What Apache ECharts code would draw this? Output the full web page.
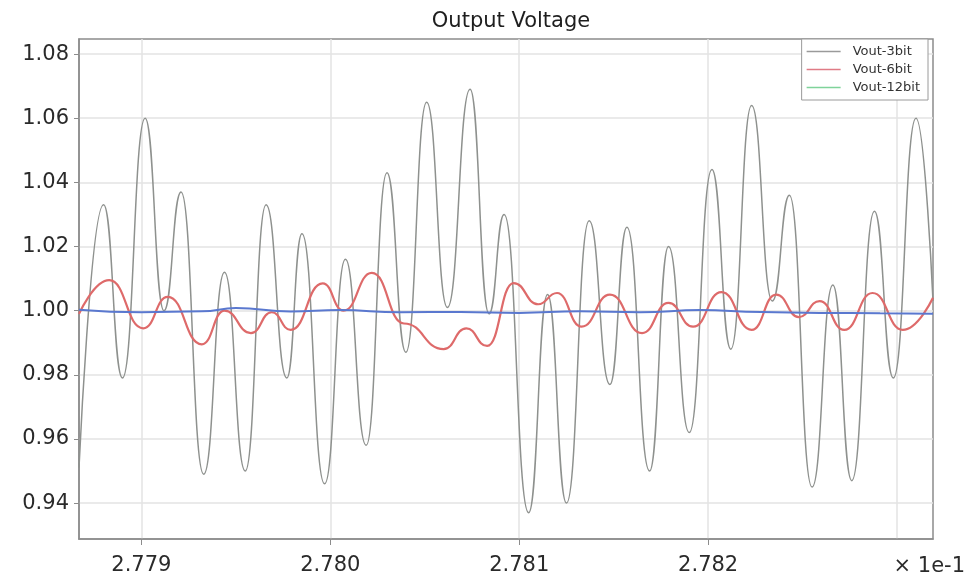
<!DOCTYPE html>
<html>
<head>
<meta charset="utf-8">
<title>Output Voltage</title>
<script src="https://cdn.jsdelivr.net/npm/echarts@6/dist/echarts.min.js"></script>
<style>
  html, body { margin: 0; padding: 0; background: #ffffff; }
  #chart { width: 969px; height: 582px; }
</style>
</head>
<body>
<div id="chart"></div>
<script>
// Time axis values are shown in units of 1e-1 s (scale note drawn at the right end).
const xTicks = [2.779, 2.780, 2.781, 2.782];
const xGridLines = [2.779, 2.780, 2.781, 2.782, 2.783];
const yTicks = [0.94, 0.96, 0.98, 1.00, 1.02, 1.04, 1.06, 1.08];
const seriesNames = ['Vout-3bit', 'Vout-6bit', 'Vout-12bit'];

// Vout-3bit: large ripple
const time3 = [
  2.77867, 2.77880, 2.77890, 2.77902, 2.77912, 2.77921, 2.77933, 2.77944, 2.77955, 2.77966,
  2.77977, 2.77985, 2.77997, 2.78008, 2.78019, 2.78030, 2.78040, 2.78051, 2.78062, 2.78074,
  2.78084, 2.78092, 2.78105, 2.78115, 2.78125, 2.78137, 2.78148, 2.78157, 2.78169, 2.78179,
  2.78190, 2.78202, 2.78212, 2.78223, 2.78234, 2.78243, 2.78255, 2.78266, 2.78276, 2.78288,
  2.78298, 2.78310, 2.78319
];
const vout3 = [
  0.951, 1.033, 0.979, 1.060, 1.000, 1.037, 0.949, 1.012, 0.950, 1.033,
  0.979, 1.024, 0.946, 1.016, 0.958, 1.043, 0.987, 1.065, 1.001, 1.069,
  0.999, 1.030, 0.937, 1.005, 0.940, 1.028, 0.977, 1.026, 0.950, 1.020,
  0.962, 1.044, 0.988, 1.064, 1.003, 1.036, 0.945, 1.008, 0.947, 1.031,
  0.979, 1.060, 1.003
];

// Vout-6bit: medium ripple
const time6 = [
  2.77867, 2.77883, 2.77901, 2.77914, 2.77932, 2.77944, 2.77958, 2.77969, 2.77979, 2.77996,
  2.78007, 2.78022, 2.78039, 2.78060, 2.78072, 2.78083, 2.78097, 2.78110, 2.78120, 2.78133,
  2.78148, 2.78165, 2.78179, 2.78192, 2.78207, 2.78223, 2.78236, 2.78248, 2.78259, 2.78272,
  2.78287, 2.78303, 2.78319
];
const vout6 = [
  0.999, 1.0095, 0.9945, 1.0043, 0.9895, 1.000, 0.993, 0.9995, 0.994, 1.0085,
  1.000, 1.0118, 0.996, 0.988, 0.9945, 0.989, 1.0086, 1.002, 1.0055, 0.995,
  1.005, 0.993, 1.0024, 0.995, 1.0058, 0.994, 1.005, 0.998, 1.003, 0.994,
  1.0055, 0.994, 1.004
];

// Vout-12bit: almost flat
const time12 = [
  2.77867, 2.77900, 2.77932, 2.77950, 2.77979, 2.78005, 2.78037, 2.78069, 2.78100, 2.78132,
  2.78164, 2.78196, 2.78228, 2.78259, 2.78291, 2.78319
];
const vout12 = [
  1.0003, 0.9995, 0.9998, 1.0008, 0.9997, 1.0002, 0.9995, 0.9996, 0.9993, 0.9998,
  0.9995, 1.0002, 0.9996, 0.9993, 0.9992, 0.9990
];

const lineColors = ['#8e918e', '#de6a6a', '#5a78cf'];
const legendColors = ['#9a9a9a', '#e07b86', '#7fd39a'];
const gridColor = '#e3e3e3';
const frameColor = '#8c8c8c';

function pairs(xs, ys) {
  return xs.map((x, i) => [x, ys[i]]);
}

const fontFamily = "'DejaVu Sans', 'Liberation Sans', sans-serif";
const xMin = 2.77867, xMax = 2.78319;
const chart = echarts.init(document.getElementById('chart'), null, { renderer: 'canvas' });

chart.setOption({
  animation: false,
  backgroundColor: '#ffffff',
  title: {
    text: 'Output Voltage',
    left: 506,
    textAlign: 'center',
    top: 6,
    textStyle: { fontFamily, fontSize: 21, fontWeight: 'normal', color: '#1e1e1e' }
  },
  grid: {
    left: 79, right: 36, top: 39, bottom: 43,
    show: true, borderColor: frameColor, borderWidth: 1.5, backgroundColor: 'transparent'
  },
  legend: {
    orient: 'vertical',
    right: 41,
    top: 39,
    padding: [6, 8, 6, 5],
    itemGap: 5,
    itemWidth: 34,
    itemHeight: 14,
    backgroundColor: '#ffffff',
    borderColor: '#9a9a9a',
    borderWidth: 1,
    textStyle: { fontFamily, fontSize: 13, color: '#333333', padding: [0, 0, 0, 7] },
    data: seriesNames.map((n, i) => ({
      name: n,
      icon: 'path://M0,0 L40,0 L40,1.5 L0,1.5 Z',
      itemStyle: { color: legendColors[i] }
    }))
  },
  xAxis: [
    {
      // labelled time axis
      type: 'value',
      min: xMin,
      max: xMax,
      z: 3,
      axisLine: { show: true, onZero: false, lineStyle: { color: frameColor, width: 1.5 } },
      axisTick: { show: true, customValues: xTicks, length: 6, inside: false, lineStyle: { color: frameColor } },
      axisLabel: {
        customValues: xTicks,
        formatter: v => v.toFixed(3),
        margin: 16,
        fontFamily, fontSize: 21, color: '#2a2a2a'
      },
      splitLine: { show: false }
    },
    {
      // unlabelled companion axis that only carries the vertical grid lines
      type: 'value',
      min: xMin,
      max: xMax,
      position: 'bottom',
      z: 0,
      axisLine: { show: false },
      axisTick: { show: false, customValues: xGridLines },
      axisLabel: { show: false, customValues: xGridLines },
      splitLine: { show: true, lineStyle: { color: gridColor, width: 1.5 } }
    }
  ],
  yAxis: {
    type: 'value',
    min: 0.9288,
    max: 1.0847,
    splitNumber: 8,
    axisLine: { show: true, onZero: false, lineStyle: { color: frameColor, width: 1.5 } },
    axisTick: { show: true, customValues: yTicks, length: 5, lineStyle: { color: frameColor } },
    axisLabel: {
      customValues: yTicks,
      formatter: v => v.toFixed(2),
      margin: 10,
      fontFamily, fontSize: 21, color: '#2a2a2a'
    },
    splitLine: { show: true, lineStyle: { color: gridColor, width: 1.5 } }
  },
  graphic: [{
    type: 'text',
    right: 4,
    top: 556,
    style: { text: '× 1e-1', fontFamily, fontSize: 21, fill: '#2a2a2a' }
  }],
  series: [
    {
      name: seriesNames[0], type: 'line', xAxisIndex: 0, data: pairs(time3, vout3),
      showSymbol: false, symbol: 'none', smooth: 0.5, smoothMonotone: 'x',
      lineStyle: { color: lineColors[0], width: 1.5 }, itemStyle: { color: lineColors[0] }, z: 2
    },
    {
      name: seriesNames[1], type: 'line', xAxisIndex: 0, data: pairs(time6, vout6),
      showSymbol: false, symbol: 'none', smooth: 0.5, smoothMonotone: 'x',
      lineStyle: { color: lineColors[1], width: 2.2 }, itemStyle: { color: lineColors[1] }, z: 3
    },
    {
      name: seriesNames[2], type: 'line', xAxisIndex: 0, data: pairs(time12, vout12),
      showSymbol: false, symbol: 'none', smooth: 0.5, smoothMonotone: 'x',
      lineStyle: { color: lineColors[2], width: 2 }, itemStyle: { color: lineColors[2] }, z: 4
    }
  ]
});
</script>
</body>
</html>
